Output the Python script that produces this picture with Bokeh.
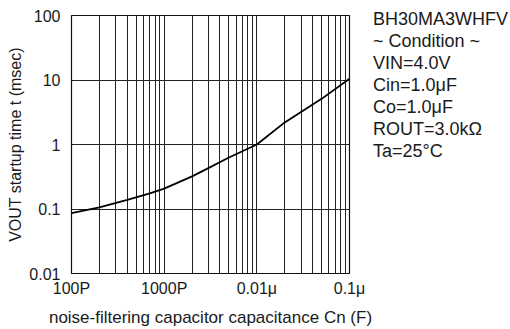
from bokeh.plotting import figure
from bokeh.layouts import row
from bokeh.models import FixedTicker, CustomJSTickFormatter, Div
from bokeh.embed import file_html
from bokeh.resources import INLINE

# data: capacitance (F) vs startup time (msec)
cap_f = [1e-10, 2e-10, 4e-10, 7e-10, 1e-9, 2e-9, 3e-9, 5e-9, 1e-8, 2e-8, 5e-8, 1e-7]
t_ms = [0.086, 0.106, 0.138, 0.175, 0.207, 0.32, 0.43, 0.63, 1.0, 2.2, 5.1, 10.5]

x_ticks = [1e-10, 1e-9, 1e-8, 1e-7]
x_labels = ["100P", "1000P", "0.01\u03bc", "0.1\u03bc"]
y_ticks = [0.01, 0.1, 1, 10, 100]
y_labels = ["0.01", "0.1", "1", "10", "100"]

cond_lines = ["BH30MA3WHFV", "~ Condition ~", "VIN=4.0V", "Cin=1.0\u03bcF",
              "Co=1.0\u03bcF", "ROUT=3.0k\u03a9", "Ta=25\u00b0C"]

FONT = "Liberation Sans"
H = 329
W1 = 372          # main chart canvas
W2 = 510 - W1     # side text block

p = figure(width=W1, height=H, x_axis_type="log", y_axis_type="log",
           x_range=(1e-10, 1e-7), y_range=(0.01, 100),
           output_backend="svg", toolbar_location=None,
           min_border_left=71, min_border_right=W1 - 349, min_border_top=15,
           min_border_bottom=53)
p.background_fill_color = "white"
p.border_fill_color = "white"
p.outline_line_color = "#111111"
p.outline_line_width = 1.2

minor = []
for t in x_ticks[:-1]:
    for k in range(2, 10):
        minor.append(t * k)

fmt_code = """
let best = -1;
for (let i = 0; i < tv.length; i++) {
  if (Math.abs(Math.log10(tv[i]) - Math.log10(tick)) < 1e-6) best = i;
}
return best >= 0 ? tl[best] : "";
"""

p.xaxis.ticker = FixedTicker(ticks=x_ticks, minor_ticks=minor)
p.xaxis.formatter = CustomJSTickFormatter(args=dict(tv=x_ticks, tl=x_labels), code=fmt_code)
p.yaxis.ticker = FixedTicker(ticks=y_ticks, minor_ticks=[])
p.yaxis.formatter = CustomJSTickFormatter(args=dict(tv=y_ticks, tl=y_labels), code=fmt_code)

for ax in (p.xaxis, p.yaxis):
    ax.axis_line_color = None
    ax.major_tick_line_color = None
    ax.minor_tick_line_color = None
    ax.major_tick_out = 0
    ax.minor_tick_out = 0
    ax.major_tick_in = 0
    ax.minor_tick_in = 0
    ax.major_label_text_font = FONT
    ax.major_label_text_font_size = "16px"
    ax.major_label_text_color = "#1a1a1a"
    ax.axis_label_text_font = FONT
    ax.axis_label_text_font_style = "normal"
    ax.axis_label_text_color = "#1a1a1a"

p.xaxis.major_label_standoff = 6
p.yaxis.major_label_standoff = 11

p.yaxis.axis_label = "VOUT startup time t (msec)"
p.yaxis.axis_label_text_font_size = "16px"
p.yaxis.axis_label_standoff = 2

p.xaxis.axis_label = "noise-filtering capacitor capacitance Cn (F)"
p.xaxis.axis_label_text_font_size = "17px"
p.xaxis.axis_label_standoff = 8

p.xgrid.grid_line_color = "#222222"
p.xgrid.grid_line_width = 1
p.xgrid.minor_grid_line_color = "#222222"
p.xgrid.minor_grid_line_width = 1
p.ygrid.grid_line_color = "#222222"
p.ygrid.grid_line_width = 1

p.line(cap_f, t_ms, line_color="black", line_width=1.8)

# side block with the measurement conditions (plain HTML text)
side = Div(text="<br>".join(cond_lines), width=W2, height=H,
           styles={"font-family": FONT, "font-size": "18px", "line-height": "22px",
                   "color": "#1a1a1a", "padding-top": "8px", "padding-left": "1px",
                   "white-space": "nowrap", "margin": "0", "box-sizing": "border-box"})

layout = row(p, side)
open("out.html", "w").write(file_html(layout, INLINE))
